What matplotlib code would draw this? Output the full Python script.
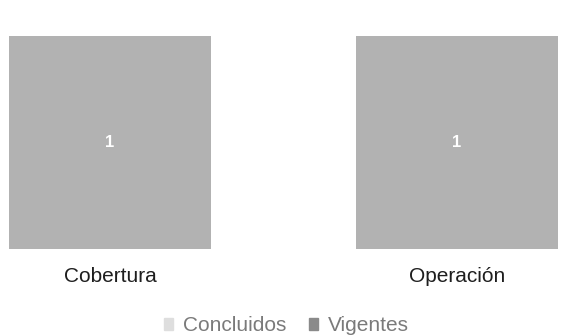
import matplotlib
matplotlib.use('Agg')
import matplotlib.pyplot as plt
import numpy as np
from matplotlib.patches import Patch

# ---------------------------------------------------------------
#                           Data
# ---------------------------------------------------------------
categorias = ['Cobertura', 'Operación']
concluidos = [0, 0]
vigentes = [1, 1]
series = ['Concluidos', 'Vigentes']

plt.rcParams['font.family'] = ['Liberation Sans', 'DejaVu Sans']

fig = plt.figure(figsize=(5.65, 3.35), dpi=100)
ax = fig.add_axes([0, 0.257, 1, 0.636])

x = np.arange(len(categorias))
ancho = 0.58
col_conc = '#dedede'
col_vig = '#b2b2b2'

ax.bar(x, concluidos, ancho, color=col_conc)
barras = ax.bar(x, vigentes, ancho, bottom=concluidos, color=col_vig)

# value labels inside bars
for b, v in zip(barras, vigentes):
    ax.text(b.get_x() + b.get_width() / 2, b.get_y() + b.get_height() / 2,
            str(v), ha='center', va='center', color='white',
            fontsize=12, fontweight='bold')

ax.set_xlim(-0.317, 1.311)
ax.set_ylim(0, 1)
ax.set_xticks(x)
ax.set_xticklabels(categorias, fontsize=15, color='#1e1e1e')
ax.tick_params(axis='x', length=0, pad=13)
ax.set_yticks([])
for s in ax.spines.values():
    s.set_visible(False)

handles = [Patch(color=col_conc), Patch(color='#8a8a8a')]
fig.legend(handles, series, loc='center', bbox_to_anchor=(0.507, 0.027),
           ncol=2, frameon=False, fontsize=15, handlelength=0.45,
           handleheight=0.45, handletextpad=0.45, columnspacing=1.1,
           labelcolor='#7a7a7a', borderpad=0)

fig.savefig('out.png', dpi=100)
